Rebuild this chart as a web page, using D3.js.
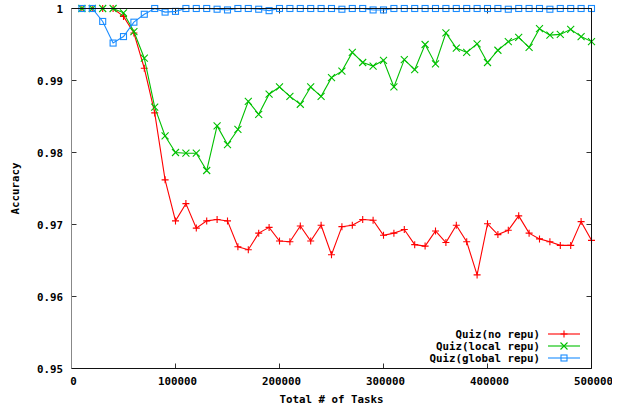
<!DOCTYPE html>
<html>
<head>
<meta charset="utf-8">
<script src="https://cdn.jsdelivr.net/npm/d3@7"></script>
<style>
  html, body { margin: 0; padding: 0; background: #fff; }
  svg text { font-family: "DejaVu Sans Mono", monospace; font-weight: bold; font-size: 10.8px; fill: #000; }
</style>
</head>
<body>
<svg id="chart" width="627" height="410"></svg>
<script>
// Total number of tasks processed (x) and accuracy of each quiz variant (y)
const tasks = [10000, 20000, 30000, 40000, 50000, 60000, 70000, 80000, 90000, 100000,
  110000, 120000, 130000, 140000, 150000, 160000, 170000, 180000, 190000, 200000,
  210000, 220000, 230000, 240000, 250000, 260000, 270000, 280000, 290000, 300000,
  310000, 320000, 330000, 340000, 350000, 360000, 370000, 380000, 390000, 400000,
  410000, 420000, 430000, 440000, 450000, 460000, 470000, 480000, 490000, 500000];

const noRepu = [1, 1, 1, 1, 0.9989, 0.9966, 0.9917, 0.9855, 0.9762, 0.9705,
  0.9729, 0.9695, 0.9705, 0.9707, 0.9705, 0.9669, 0.9665, 0.9688, 0.9696, 0.9677,
  0.9676, 0.9698, 0.9677, 0.9699, 0.9658, 0.9697, 0.9699, 0.9707, 0.9706, 0.9685,
  0.9688, 0.9693, 0.9672, 0.9670, 0.9691, 0.9675, 0.9699, 0.9676, 0.9630, 0.9701,
  0.9686, 0.9692, 0.9712, 0.9688, 0.9680, 0.9676, 0.9671, 0.9671, 0.9704, 0.9678];

const localRepu = [1, 1, 1, 1, 0.9994, 0.9968, 0.9931, 0.9863, 0.9823, 0.9800,
  0.9799, 0.9799, 0.9775, 0.9837, 0.9811, 0.9832, 0.9871, 0.9853, 0.9881, 0.9891,
  0.9878, 0.9867, 0.9891, 0.9878, 0.9904, 0.9913, 0.9939, 0.9925, 0.9920, 0.9928,
  0.9891, 0.9929, 0.9915, 0.9950, 0.9923, 0.9966, 0.9945, 0.9939, 0.9951, 0.9925,
  0.9942, 0.9954, 0.9960, 0.9946, 0.9972, 0.9963, 0.9964, 0.9971, 0.9961, 0.9954];

const globalRepu = [1, 1, 0.9982, 0.9952, 0.9961, 0.9981, 0.9992, 1, 0.9995, 0.9996,
  1, 1, 1, 0.9999, 0.9998, 1, 1, 0.9999, 0.9997, 1,
  1, 1, 1, 1, 1, 0.9999, 1, 1, 0.9998, 0.9998,
  1, 1, 1, 1, 1, 1, 1, 1, 1, 1,
  1, 0.9999, 1, 1, 1, 0.9999, 1, 1, 1, 1];

const xTicks = [0, 100000, 200000, 300000, 400000, 500000];
const yTicks = [0.95, 0.96, 0.97, 0.98, 0.99, 1];
const yTickLabels = ["0.95", "0.96", "0.97", "0.98", "0.99", "1"];

const seriesNames = ["Quiz(no repu)", "Quiz(local repu)", "Quiz(global repu)"];
const seriesColors = ["#ff0000", "#00c000", "#1a8cff"];
const seriesMarkers = ["plus", "cross", "square"];
const seriesValues = [noRepu, localRepu, globalRepu];

const svg = d3.select("#chart");
const plotL = 71.5, plotR = 591.5, plotT = 8.5, plotB = 368.5;

const x = d3.scaleLinear().domain([0, 500000]).range([plotL, plotR]);
const y = d3.scaleLinear().domain([0.95, 1]).range([plotB, plotT]);

// The canvas ends just right of the last x label
svg.append("defs").append("clipPath").attr("id", "canvasClip")
  .append("rect").attr("x", 0).attr("y", 0).attr("width", 612).attr("height", 410);

// Tick marks (inward, mirrored on all four sides)
const tickLen = 5;
const g = svg.append("g");
yTicks.forEach(t => {
  const yy = Math.round(y(t) - 0.5) + 0.5;
  g.append("line").attr("x1", plotL).attr("x2", plotL + tickLen).attr("y1", yy).attr("y2", yy).attr("stroke", "#333");
  g.append("line").attr("x1", plotR).attr("x2", plotR - tickLen).attr("y1", yy).attr("y2", yy).attr("stroke", "#333");
});
xTicks.forEach(t => {
  const xx = Math.round(x(t) - 0.5) + 0.5;
  g.append("line").attr("x1", xx).attr("x2", xx).attr("y1", plotB).attr("y2", plotB - tickLen).attr("stroke", "#333");
  g.append("line").attr("x1", xx).attr("x2", xx).attr("y1", plotT).attr("y2", plotT + tickLen).attr("stroke", "#333");
});

// Tick labels
svg.append("g").selectAll("text").data(yTicks).join("text")
  .attr("x", 63).attr("y", d => y(d) + 4)
  .attr("text-anchor", "end")
  .text((d, i) => yTickLabels[i]);

svg.append("g").attr("clip-path", "url(#canvasClip)")
  .selectAll("text").data(xTicks).join("text")
  .attr("x", d => x(d) + 2).attr("y", 385)
  .attr("text-anchor", "middle")
  .text(d => String(d));

// Axis titles
svg.append("text").attr("x", (plotL + plotR) / 2).attr("y", 403)
  .attr("text-anchor", "middle").text("Total # of Tasks");
svg.append("text").attr("transform", `translate(19,${(plotT + plotB) / 2}) rotate(-90)`)
  .attr("text-anchor", "middle").text("Accuracy");

// Point marker shapes
function drawMarker(sel, kind, color, cx, cy) {
  const s = 3.5;
  if (kind === "plus") {
    sel.append("path").attr("d", `M${cx - s},${cy}H${cx + s}M${cx},${cy - s}V${cy + s}`)
      .attr("stroke", color).attr("fill", "none").attr("stroke-width", 1.1);
  } else if (kind === "cross") {
    sel.append("path").attr("d", `M${cx - s},${cy - s}L${cx + s},${cy + s}M${cx - s},${cy + s}L${cx + s},${cy - s}`)
      .attr("stroke", color).attr("fill", "none").attr("stroke-width", 1.1);
  } else {
    sel.append("rect").attr("x", cx - 3).attr("y", cy - 3).attr("width", 6).attr("height", 6)
      .attr("stroke", color).attr("fill", "none").attr("stroke-width", 1.1);
  }
}

// Series lines and points
const line = d3.line().x((d, i) => x(tasks[i])).y(d => y(d));
seriesValues.forEach((vals, si) => {
  const sg = svg.append("g");
  sg.append("path").datum(vals).attr("d", line)
    .attr("fill", "none").attr("stroke", seriesColors[si]).attr("stroke-width", 1.1);
  vals.forEach((v, i) => drawMarker(sg, seriesMarkers[si], seriesColors[si], x(tasks[i]), y(v)));
});

// Plot border: grey left axis, dark top/right/bottom
const border = svg.append("g").attr("fill", "none");
border.append("path").attr("d", `M${plotL},${plotT}H${plotR}V${plotB}H${plotL}`).attr("stroke", "#111");
border.append("path").attr("d", `M${plotL},${plotT}V${plotB}`).attr("stroke", "#888");

// Legend
const legY = [334, 346, 358];
seriesNames.forEach((name, si) => {
  const lg = svg.append("g");
  lg.append("text").attr("x", 540).attr("y", legY[si] + 4).attr("text-anchor", "end").text(name);
  lg.append("line").attr("x1", 548).attr("x2", 580).attr("y1", legY[si]).attr("y2", legY[si])
    .attr("stroke", seriesColors[si]).attr("stroke-width", 1.1);
  drawMarker(lg, seriesMarkers[si], seriesColors[si], 564, legY[si]);
});
</script>
</body>
</html>
